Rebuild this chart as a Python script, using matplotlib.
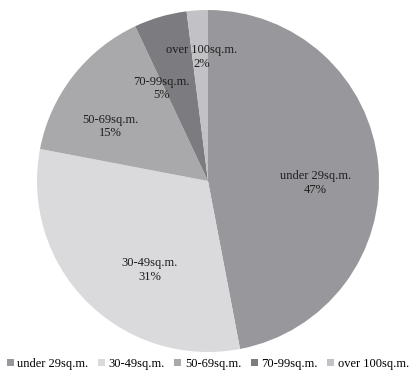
import matplotlib
matplotlib.use("Agg")
import matplotlib.pyplot as plt

categories = ["under 29sq.m.", "30-49sq.m.", "50-69sq.m.", "70-99sq.m.", "over 100sq.m."]
shares = [47, 31, 15, 5, 2]
colors = ["#98989c", "#dadadc", "#a9a9ab", "#7c7c80", "#c2c2c6"]
# label centres, in units of the pie radius
label_pos = [(0.63, -0.012), (-0.34, -0.52), (-0.57, 0.32), (-0.27, 0.54), (-0.035, 0.725)]

plt.rcParams["font.family"] = ["Liberation Serif", "DejaVu Serif"]

fig = plt.figure(figsize=(4.12, 3.74), dpi=100)
ax = fig.add_axes([37 / 412, 22 / 374, 342 / 412, 342 / 374])
wedges, _ = ax.pie(shares, colors=colors, startangle=90, counterclock=False,
                   radius=1, wedgeprops=dict(linewidth=0))
ax.set_xlim(-1, 1)
ax.set_ylim(-1, 1)
ax.set_aspect("equal")
ax.axis("off")

for name, val, (x, y) in zip(categories, shares, label_pos):
    ax.text(x, y, f"{name}\n{val}%", ha="center", va="center",
            fontsize=9, color="#1e1e1e", linespacing=1.15)

fig.legend(wedges, categories, loc="lower center", bbox_to_anchor=(0.505, 0.004),
           ncol=5, frameon=False, fontsize=9, handlelength=0.55, handleheight=0.55,
           handletextpad=0.3, columnspacing=0.75, borderaxespad=0.0, borderpad=0.2)

fig.savefig("out.png", dpi=100)
